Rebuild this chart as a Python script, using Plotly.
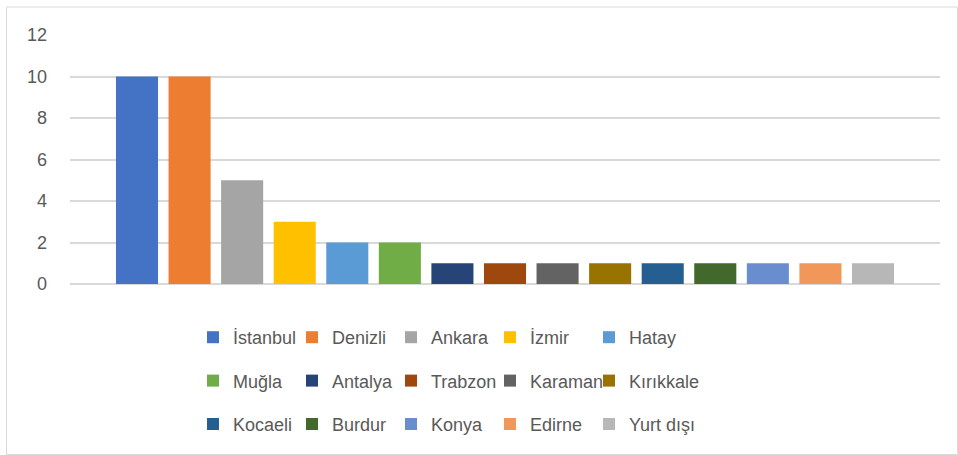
import plotly.graph_objects as go

cities = ["İstanbul", "Denizli", "Ankara", "İzmir", "Hatay",
          "Muğla", "Antalya", "Trabzon", "Karaman", "Kırıkkale",
          "Kocaeli", "Burdur", "Konya", "Edirne", "Yurt dışı"]
values = [10, 10, 5, 3, 2, 2, 1, 1, 1, 1, 1, 1, 1, 1, 1]
colors = ["#4472C4", "#ED7D31", "#A5A5A5", "#FFC000", "#5B9BD5",
          "#70AD47", "#264478", "#9E480E", "#636363", "#997300",
          "#255E91", "#43682B", "#698ED0", "#F1975A", "#B7B7B7"]
y_ticks = [0, 2, 4, 6, 8, 10, 12]

W, H = 958, 455
L, R, T, B = 70, 18, 35, 171
pw, ph = W - L - R, H - T - B

font_family = "Liberation Sans"
text_color = "#595959"

def py(ypix):
    return (H - B - ypix) / ph

def px(xpix):
    return (xpix - L) / pw

ncols = 5
legend_ids = ["legend"] + ["legend%d" % k for k in range(2, ncols + 1)]

fig = go.Figure()
for i, (c, v, col) in enumerate(zip(cities, values, colors)):
    fig.add_trace(go.Bar(
        x=["Şehir"], y=[v], name=c, marker=dict(color=col, line=dict(width=0)),
        legend=legend_ids[i % ncols], legendgroup="g%d" % i,
        hoverinfo="name+y",
    ))

legend_common = dict(orientation="v",
                     font=dict(family=font_family, size=18, color=text_color),
                     bgcolor="rgba(0,0,0,0)", borderwidth=0,
                     xanchor="left", yanchor="middle", itemwidth=30,
                     traceorder="grouped", tracegroupgap=17)

legends = {}
for j, lid in enumerate(legend_ids):
    legends[lid] = dict(x=px(193 + 99 * j), y=py(381), **legend_common)

fig.update_layout(
    width=W, height=H,
    margin=dict(l=L, r=R, t=T, b=B, pad=0, autoexpand=False),
    paper_bgcolor="white", plot_bgcolor="white",
    barmode="group", bargap=0.0936, bargroupgap=0.2,
    showlegend=True,
    xaxis=dict(showticklabels=False, showgrid=False, zeroline=False,
               showline=False, ticks=""),
    yaxis=dict(range=[0, 12], tickvals=y_ticks, showgrid=True,
               gridcolor="#D9D9D9", gridwidth=1.5, zeroline=True,
               zerolinecolor="#D9D9D9", zerolinewidth=1.5, showline=False,
               ticks="", ticklabelstandoff=22,
               tickfont=dict(family=font_family, size=18, color=text_color)),
    shapes=[dict(type="rect", xref="paper", yref="paper",
                 x0=px(6.5), x1=px(957.5), y0=py(454.5), y1=py(7),
                 line=dict(color="#D9D9D9", width=1), layer="below")],
    **legends,
)

fig.write_html("out.html")
